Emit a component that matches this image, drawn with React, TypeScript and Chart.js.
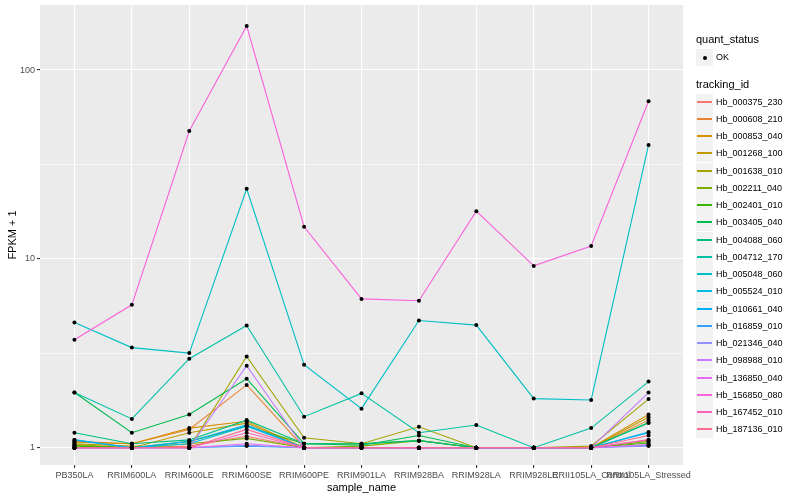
import React, { useEffect, useRef } from "react";
import { Chart, registerables } from "chart.js";

Chart.register(...registerables);

const samples = [
  "PB350LA",
  "RRIM600LA",
  "RRIM600LE",
  "RRIM600SE",
  "RRIM600PE",
  "RRIM901LA",
  "RRIM928BA",
  "RRIM928LA",
  "RRIM928LE",
  "RRII105LA_Control",
  "RRII105LA_Stressed",
];

const trackingIds = [
  "Hb_000375_230",
  "Hb_000608_210",
  "Hb_000853_040",
  "Hb_001268_100",
  "Hb_001638_010",
  "Hb_002211_040",
  "Hb_002401_010",
  "Hb_003405_040",
  "Hb_004088_060",
  "Hb_004712_170",
  "Hb_005048_060",
  "Hb_005524_010",
  "Hb_010661_040",
  "Hb_016859_010",
  "Hb_021346_040",
  "Hb_098988_010",
  "Hb_136850_040",
  "Hb_156850_080",
  "Hb_167452_010",
  "Hb_187136_010",
];

const seriesColors = [
  "#F8766D", "#EA8331", "#D89000", "#C09B00", "#A3A500",
  "#7CAE00", "#39B600", "#00BB4E", "#00BF7D", "#00C1A3",
  "#00BFC4", "#00BAE0", "#00B0F6", "#35A2FF", "#9590FF",
  "#C77CFF", "#E76BF3", "#FA62DB", "#FF62BC", "#FF6C91",
];

// FPKM + 1 per sample (order of `samples`)
const hb000375_230 = [1.0, 1.0, 1.02, 1.15, 1.0, 1.0, 1.0, 1.0, 1.0, 1.0, 1.1];
const hb000608_210 = [1.08, 1.05, 1.25, 2.15, 1.0, 1.0, 1.0, 1.0, 1.0, 1.0, 1.4];
const hb000853_040 = [1.07, 1.05, 1.27, 1.38, 1.0, 1.0, 1.0, 1.0, 1.0, 1.0, 1.5];
const hb001268_100 = [1.04, 1.0, 1.2, 1.35, 1.0, 1.0, 1.0, 1.0, 1.0, 1.0, 1.45];
const hb001638_010 = [1.05, 1.02, 1.0, 3.04, 1.13, 1.05, 1.29, 1.0, 1.0, 1.02, 1.81];
const hb002211_040 = [1.03, 1.0, 1.05, 1.12, 1.0, 1.02, 1.09, 1.0, 1.0, 1.0, 1.08];
const hb002401_010 = [1.02, 1.0, 1.08, 1.3, 1.05, 1.05, 1.09, 1.0, 1.0, 1.0, 1.06];
const hb003405_040 = [1.96, 1.2, 1.5, 2.32, 1.05, 1.03, 1.16, 1.0, 1.0, 1.0, 1.36];
const hb004088_060 = [1.2, 1.05, 1.1, 1.4, 1.05, 1.05, 1.09, 1.0, 1.0, 1.0, 1.35];
const hb004712_170 = [1.96, 1.42, 2.96, 4.44, 1.46, 1.94, 1.2, 1.32, 1.0, 1.27, 2.24];
const hb005048_060 = [4.6, 3.39, 3.17, 23.5, 2.75, 1.61, 4.72, 4.46, 1.82, 1.79, 40.1];
const hb005524_010 = [1.1, 1.0, 1.05, 1.3, 1.0, 1.0, 1.0, 1.0, 1.0, 1.0, 1.2];
const hb010661_040 = [1.1, 1.0, 1.08, 1.32, 1.0, 1.0, 1.0, 1.0, 1.0, 1.0, 1.21];
const hb016859_010 = [1.0, 1.0, 1.0, 1.02, 1.0, 1.0, 1.0, 1.0, 1.0, 1.0, 1.03];
const hb021346_040 = [1.0, 1.0, 1.0, 1.03, 1.0, 1.0, 1.0, 1.0, 1.0, 1.0, 1.02];
const hb098988_010 = [1.0, 1.0, 1.0, 2.72, 1.0, 1.0, 1.0, 1.0, 1.0, 1.0, 1.96];
const hb136850_040 = [1.0, 1.0, 1.0, 1.05, 1.0, 1.0, 1.0, 1.0, 1.0, 1.0, 1.04];
const hb156850_080 = [3.73, 5.71, 47.5, 171, 14.8, 6.14, 6.0, 17.9, 9.18, 11.7, 68.3];
const hb167452_010 = [1.0, 1.0, 1.0, 1.2, 1.0, 1.0, 1.0, 1.0, 1.0, 1.0, 1.1];
const hb187136_010 = [1.0, 1.0, 1.0, 1.25, 1.0, 1.0, 1.0, 1.0, 1.0, 1.0, 1.16];

const seriesValues = [
  hb000375_230, hb000608_210, hb000853_040, hb001268_100, hb001638_010,
  hb002211_040, hb002401_010, hb003405_040, hb004088_060, hb004712_170,
  hb005048_060, hb005524_010, hb010661_040, hb016859_010, hb021346_040,
  hb098988_010, hb136850_040, hb156850_080, hb167452_010, hb187136_010,
];

const yMajorTicks = [1, 10, 100];
const yMinorTicks = [Math.sqrt(10), Math.sqrt(1000)];

const FONT = "'Liberation Sans', Arial, Helvetica, sans-serif";

const panelBg = {
  id: "panelBg",
  beforeDraw(chart: any) {
    const { ctx, chartArea } = chart;
    ctx.save();
    ctx.fillStyle = "#EBEBEB";
    ctx.fillRect(chartArea.left, chartArea.top, chartArea.width, chartArea.height);
    ctx.restore();
  },
};

export default function App() {
  const ref = useRef<HTMLCanvasElement | null>(null);

  useEffect(() => {
    if (!ref.current) return;
    const lineSets = seriesValues.map((vals, i) => ({
      type: "line" as const,
      label: trackingIds[i],
      data: vals.map((v, j) => ({ x: j, y: v })),
      borderColor: seriesColors[i],
      backgroundColor: seriesColors[i],
      borderWidth: 1.1,
      pointRadius: 0,
      tension: 0,
      fill: false,
      order: seriesValues.length - i + 1,
    }));
    const pointSet = {
      type: "scatter" as const,
      label: "OK",
      data: seriesValues.flatMap((vals) => vals.map((v, j) => ({ x: j, y: v }))),
      backgroundColor: "#000000",
      borderColor: "#000000",
      pointRadius: 2,
      borderWidth: 0,
      showLine: false,
      order: 0,
    };

    const chart = new Chart(ref.current, {
      type: "line",
      data: { datasets: [...lineSets, pointSet] as any },
      options: {
        animation: false,
        responsive: false,
        devicePixelRatio: 1,
        layout: { padding: { left: 0, top: 5, right: 117, bottom: 0 } },
        plugins: {
          legend: { display: false },
          tooltip: { enabled: false },
        },
        scales: {
          x: {
            type: "linear",
            min: -0.6,
            max: samples.length - 1 + 0.6,
            afterBuildTicks: (s: any) => {
              s.ticks = samples.map((_, i) => ({ value: i }));
            },
            afterFit: (s: any) => {
              s.height = 35;
              s.paddingLeft = 0;
              s.paddingRight = 0;
            },
            ticks: {
              autoSkip: false,
              maxRotation: 0,
              minRotation: 0,
              padding: 2,
              color: "#4D4D4D",
              font: { family: FONT, size: 9 },
              callback: (v: any) => samples[Math.round(Number(v))] ?? "",
            },
            grid: {
              color: "#FFFFFF",
              lineWidth: 1.1,
              tickColor: "#333333",
              tickLength: 3,
              drawOnChartArea: true,
            },
            border: { display: false },
            title: {
              display: true,
              text: "sample_name",
              color: "#000000",
              font: { family: FONT, size: 11 },
              padding: { top: 0, bottom: 5 },
            },
          },
          y: {
            type: "logarithmic",
            min: 0.81,
            max: 221,
            bounds: "data",
            afterBuildTicks: (s: any) => {
              s.ticks = [...yMajorTicks, ...yMinorTicks]
                .sort((a, b) => a - b)
                .map((v) => ({ value: v }));
            },
            afterFit: (s: any) => {
              s.width = 40;
              s.paddingTop = 0;
              s.paddingBottom = 0;
            },
            ticks: {
              autoSkip: false,
              padding: 2,
              color: "#4D4D4D",
              font: { family: FONT, size: 9 },
              callback: (v: any) =>
                yMajorTicks.includes(Number(v)) ? String(v) : "",
            },
            grid: {
              color: "#FFFFFF",
              lineWidth: (c: any) =>
                c.tick && yMajorTicks.includes(c.tick.value) ? 1.1 : 0.55,
              tickColor: (c: any) =>
                c.tick && yMajorTicks.includes(c.tick.value)
                  ? "#333333"
                  : "rgba(0,0,0,0)",
              tickLength: 3,
            },
            border: { display: false },
            title: {
              display: true,
              text: "FPKM + 1",
              color: "#000000",
              font: { family: FONT, size: 11 },
              padding: { top: 6, bottom: 0 },
            },
          },
        },
      } as any,
      plugins: [panelBg],
    });
    return () => chart.destroy();
  }, []);

  const legendLabel: React.CSSProperties = {
    position: "absolute",
    left: 716,
    fontFamily: FONT,
    fontSize: 9,
    color: "#000000",
    lineHeight: "11px",
    whiteSpace: "nowrap",
  };

  return (
    <div style={{ position: "absolute", left: 0, top: 0, width: 800, height: 500, background: "#FFFFFF" }}>
      <canvas ref={ref} width={800} height={500} style={{ display: "block" }} />
      <div
        style={{
          position: "absolute",
          left: 696,
          top: 33,
          fontFamily: FONT,
          fontSize: 11,
          lineHeight: "13px",
          whiteSpace: "nowrap",
        }}
      >
        quant_status
      </div>
      <div
        style={{
          position: "absolute",
          left: 696,
          top: 49,
          width: 17,
          height: 17,
          background: "#F2F2F2",
        }}
      >
        <div
          style={{
            position: "absolute",
            left: 6.5,
            top: 6.5,
            width: 4,
            height: 4,
            borderRadius: 2,
            background: "#000000",
          }}
        />
      </div>
      <div style={{ ...legendLabel, top: 52 }}>OK</div>
      <div
        style={{
          position: "absolute",
          left: 696,
          top: 78,
          fontFamily: FONT,
          fontSize: 11,
          lineHeight: "13px",
          whiteSpace: "nowrap",
        }}
      >
        tracking_id
      </div>
      {trackingIds.map((id, i) => {
        const cy = Math.round(101.7 + i * 17.25);
        return (
          <React.Fragment key={id}>
            <div
              style={{
                position: "absolute",
                left: 696,
                top: cy - 8,
                width: 17,
                height: 17,
                background: "#F2F2F2",
              }}
            >
              <div
                style={{
                  position: "absolute",
                  left: 1,
                  top: 7,
                  width: 15,
                  height: 2,
                  background: seriesColors[i],
                }}
              />
            </div>
            <div style={{ ...legendLabel, top: cy - 5 }}>{id}</div>
          </React.Fragment>
        );
      })}
    </div>
  );
}
